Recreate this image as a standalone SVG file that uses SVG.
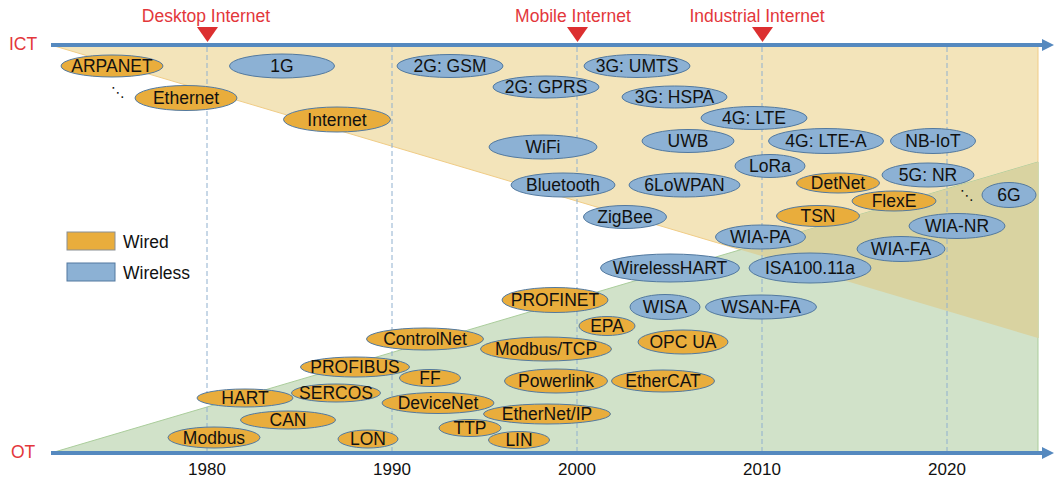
<svg xmlns="http://www.w3.org/2000/svg" width="1054" height="479" viewBox="0 0 1054 479">
<style>
text{font-family:"Liberation Sans",Arial,sans-serif;font-size:17.5px;fill:#111;text-anchor:middle}
.wd{fill:#e9ad3c;stroke:#52799f;stroke-width:1}
.wl{fill:#8cb1d4;stroke:#52799f;stroke-width:1}
.red{fill:#e3373b}
.grid{stroke:#8fb0cf;stroke-width:1;stroke-dasharray:5 3;fill:none}
.axis{stroke:#5589bf;stroke-width:4;fill:none}
.dots{font-family:"DejaVu Sans",sans-serif;font-size:14px}
.yr{font-size:17px}
</style>
<defs>
<marker id="ah" markerUnits="userSpaceOnUse" markerWidth="14" markerHeight="14" refX="0" refY="6" orient="auto">
<polygon points="0,0 12,6 0,12" fill="#5589bf"/>
</marker>
</defs>
<rect width="1054" height="479" fill="#fff"/>
<g id="regions">
<polygon points="51,45 1038,45 1038,338" fill="#f3e4ba" stroke="#f0cc86" stroke-width="1"/>
<polygon points="51,453 1038,453 1038,162" fill="#d1e2c9" stroke="#aacd9b" stroke-width="1"/>
<polygon points="740.5,249.7 1038,162 1038,338" fill="#d9d3a1"/>
</g>
<g id="gridlines">
<line class="grid" x1="207" y1="47" x2="207" y2="451"/>
<line class="grid" x1="392" y1="47" x2="392" y2="451"/>
<line class="grid" x1="577" y1="47" x2="577" y2="451"/>
<line class="grid" x1="762" y1="47" x2="762" y2="451"/>
<line class="grid" x1="947" y1="47" x2="947" y2="451"/>
</g>
<g id="connectors">
<line class="axis" x1="51" y1="45" x2="1042" y2="45" marker-end="url(#ah)"/>
<line class="axis" x1="51" y1="453" x2="1042" y2="453" marker-end="url(#ah)"/>
</g>
<g id="axis-labels">
<text x="9" y="50" class="red" style="text-anchor:start">ICT</text>
<text x="11" y="458" class="red" style="text-anchor:start">OT</text>
<text x="207" y="475" class="yr">1980</text>
<text x="392" y="475" class="yr">1990</text>
<text x="577" y="475" class="yr">2000</text>
<text x="762" y="475" class="yr">2010</text>
<text x="947" y="475" class="yr">2020</text>
</g>
<g id="milestone-desktop">
<text x="206" y="22" class="red">Desktop Internet</text>
<polygon points="197,27 218,27 207.5,42" fill="#dc2f30"/>
</g>
<g id="milestone-mobile">
<text x="573" y="22" class="red">Mobile Internet</text>
<polygon points="567,27 588,27 577.5,42" fill="#dc2f30"/>
</g>
<g id="milestone-industrial">
<text x="757" y="22" class="red">Industrial Internet</text>
<polygon points="752,27 773,27 762.5,42" fill="#dc2f30"/>
</g>
<g id="legend">
<rect x="67" y="232" width="48" height="18" class="wd" style="stroke:#8a8f94"/>
<text x="123" y="248" style="text-anchor:start">Wired</text>
<rect x="67" y="263" width="48" height="18" class="wl"/>
<text x="123" y="279" style="text-anchor:start">Wireless</text>
</g>
<g id="ellipsis-1"><text x="118" y="97" class="dots">⋱</text></g>
<g id="ellipsis-2"><text x="967" y="200" class="dots">⋱</text></g>
<g id="n-arpanet"><ellipse class="wd" cx="112" cy="66" rx="51" ry="11"/><text x="112" y="72">ARPANET</text></g>
<g id="n-1g"><ellipse class="wl" cx="282" cy="66" rx="52.5" ry="12"/><text x="282" y="72">1G</text></g>
<g id="n-ethernet"><ellipse class="wd" cx="186" cy="98" rx="51" ry="12.5"/><text x="186" y="104">Ethernet</text></g>
<g id="n-internet"><ellipse class="wd" cx="337" cy="119.5" rx="53.5" ry="12.5"/><text x="337" y="125.5">Internet</text></g>
<g id="n-2ggsm"><ellipse class="wl" cx="450" cy="66" rx="53" ry="11.5"/><text x="450" y="72">2G: GSM</text></g>
<g id="n-3gumts"><ellipse class="wl" cx="637" cy="66" rx="53" ry="11.5"/><text x="637" y="72">3G: UMTS</text></g>
<g id="n-2ggprs"><ellipse class="wl" cx="546" cy="87" rx="53" ry="11"/><text x="546" y="93">2G: GPRS</text></g>
<g id="n-3ghspa"><ellipse class="wl" cx="674.5" cy="97" rx="52.5" ry="11"/><text x="674.5" y="103">3G: HSPA</text></g>
<g id="n-4glte"><ellipse class="wl" cx="754" cy="118" rx="53" ry="11.5"/><text x="754" y="124">4G: LTE</text></g>
<g id="n-uwb"><ellipse class="wl" cx="688" cy="141" rx="46" ry="11.5"/><text x="688" y="147">UWB</text></g>
<g id="n-4gltea"><ellipse class="wl" cx="826" cy="141" rx="57.5" ry="12.5"/><text x="826" y="147">4G: LTE-A</text></g>
<g id="n-nbiot"><ellipse class="wl" cx="933" cy="141" rx="42.5" ry="12.5"/><text x="933" y="147">NB-IoT</text></g>
<g id="n-wifi"><ellipse class="wl" cx="543" cy="147" rx="54" ry="12"/><text x="543" y="153">WiFi</text></g>
<g id="n-lora"><ellipse class="wl" cx="770" cy="166" rx="35" ry="11.5"/><text x="770" y="172">LoRa</text></g>
<g id="n-5gnr"><ellipse class="wl" cx="928" cy="175" rx="46" ry="12"/><text x="928" y="181">5G: NR</text></g>
<g id="n-bluetooth"><ellipse class="wl" cx="563" cy="185" rx="52" ry="12"/><text x="563" y="191">Bluetooth</text></g>
<g id="n-6lowpan"><ellipse class="wl" cx="684.5" cy="185" rx="55.5" ry="12"/><text x="684.5" y="191">6LoWPAN</text></g>
<g id="n-detnet"><ellipse class="wd" cx="838" cy="183" rx="41.5" ry="10"/><text x="838" y="189">DetNet</text></g>
<g id="n-flexe"><ellipse class="wd" cx="894" cy="201" rx="42" ry="10"/><text x="894" y="207">FlexE</text></g>
<g id="n-6g"><ellipse class="wl" cx="1009" cy="195" rx="27" ry="12.5"/><text x="1009" y="201">6G</text></g>
<g id="n-zigbee"><ellipse class="wl" cx="625" cy="217" rx="41.5" ry="11.5"/><text x="625" y="223">ZigBee</text></g>
<g id="n-tsn"><ellipse class="wd" cx="818" cy="216" rx="41.5" ry="10.5"/><text x="818" y="222">TSN</text></g>
<g id="n-wianr"><ellipse class="wl" cx="957" cy="226" rx="48" ry="12.5"/><text x="957" y="232">WIA-NR</text></g>
<g id="n-wiapa"><ellipse class="wl" cx="760.5" cy="237" rx="45" ry="12"/><text x="760.5" y="243">WIA-PA</text></g>
<g id="n-wiafa"><ellipse class="wl" cx="901" cy="249" rx="44" ry="12.5"/><text x="901" y="255">WIA-FA</text></g>
<g id="n-wirelesshart"><ellipse class="wl" cx="670" cy="268" rx="69.5" ry="14"/><text x="670" y="274">WirelessHART</text></g>
<g id="n-isa100"><ellipse class="wl" cx="810" cy="268" rx="61" ry="15"/><text x="810" y="274">ISA100.11a</text></g>
<g id="n-profinet"><ellipse class="wd" cx="555" cy="300" rx="53" ry="12.5"/><text x="555" y="306">PROFINET</text></g>
<g id="n-wisa"><ellipse class="wl" cx="665" cy="307" rx="35" ry="12.5"/><text x="665" y="313">WISA</text></g>
<g id="n-wsanfa"><ellipse class="wl" cx="761" cy="307" rx="55.5" ry="12"/><text x="761" y="313">WSAN-FA</text></g>
<g id="n-epa"><ellipse class="wd" cx="607" cy="326" rx="28" ry="9.5"/><text x="607" y="332">EPA</text></g>
<g id="n-controlnet"><ellipse class="wd" cx="425" cy="339" rx="58.5" ry="11"/><text x="425" y="345">ControlNet</text></g>
<g id="n-modbustcp"><ellipse class="wd" cx="546" cy="349" rx="65.5" ry="12"/><text x="546" y="355">Modbus/TCP</text></g>
<g id="n-opcua"><ellipse class="wd" cx="683" cy="342" rx="45" ry="12"/><text x="683" y="348">OPC UA</text></g>
<g id="n-profibus"><ellipse class="wd" cx="355" cy="367" rx="54.5" ry="10"/><text x="355" y="373">PROFIBUS</text></g>
<g id="n-ff"><ellipse class="wd" cx="430" cy="378" rx="30.5" ry="8.5"/><text x="430" y="384">FF</text></g>
<g id="n-powerlink"><ellipse class="wd" cx="556" cy="381" rx="51.5" ry="12"/><text x="556" y="387">Powerlink</text></g>
<g id="n-ethercat"><ellipse class="wd" cx="663" cy="381" rx="51.5" ry="11"/><text x="663" y="387">EtherCAT</text></g>
<g id="n-sercos"><ellipse class="wd" cx="336" cy="393" rx="44.5" ry="9"/><text x="336" y="399">SERCOS</text></g>
<g id="n-hart"><ellipse class="wd" cx="245" cy="398" rx="48" ry="9"/><text x="245" y="404">HART</text></g>
<g id="n-devicenet"><ellipse class="wd" cx="438" cy="403" rx="56" ry="10.5"/><text x="438" y="409">DeviceNet</text></g>
<g id="n-ethernetip"><ellipse class="wd" cx="547" cy="414" rx="63.5" ry="10"/><text x="547" y="420">EtherNet/IP</text></g>
<g id="n-can"><ellipse class="wd" cx="288" cy="420" rx="47.5" ry="9"/><text x="288" y="426">CAN</text></g>
<g id="n-ttp"><ellipse class="wd" cx="470" cy="428" rx="31" ry="8.5"/><text x="470" y="434">TTP</text></g>
<g id="n-lin"><ellipse class="wd" cx="519" cy="440" rx="30.5" ry="8.5"/><text x="519" y="446">LIN</text></g>
<g id="n-lon"><ellipse class="wd" cx="368" cy="439" rx="30" ry="9"/><text x="368" y="445">LON</text></g>
<g id="n-modbus"><ellipse class="wd" cx="214" cy="437.5" rx="46" ry="10.5"/><text x="214" y="443.5">Modbus</text></g>
</svg>
